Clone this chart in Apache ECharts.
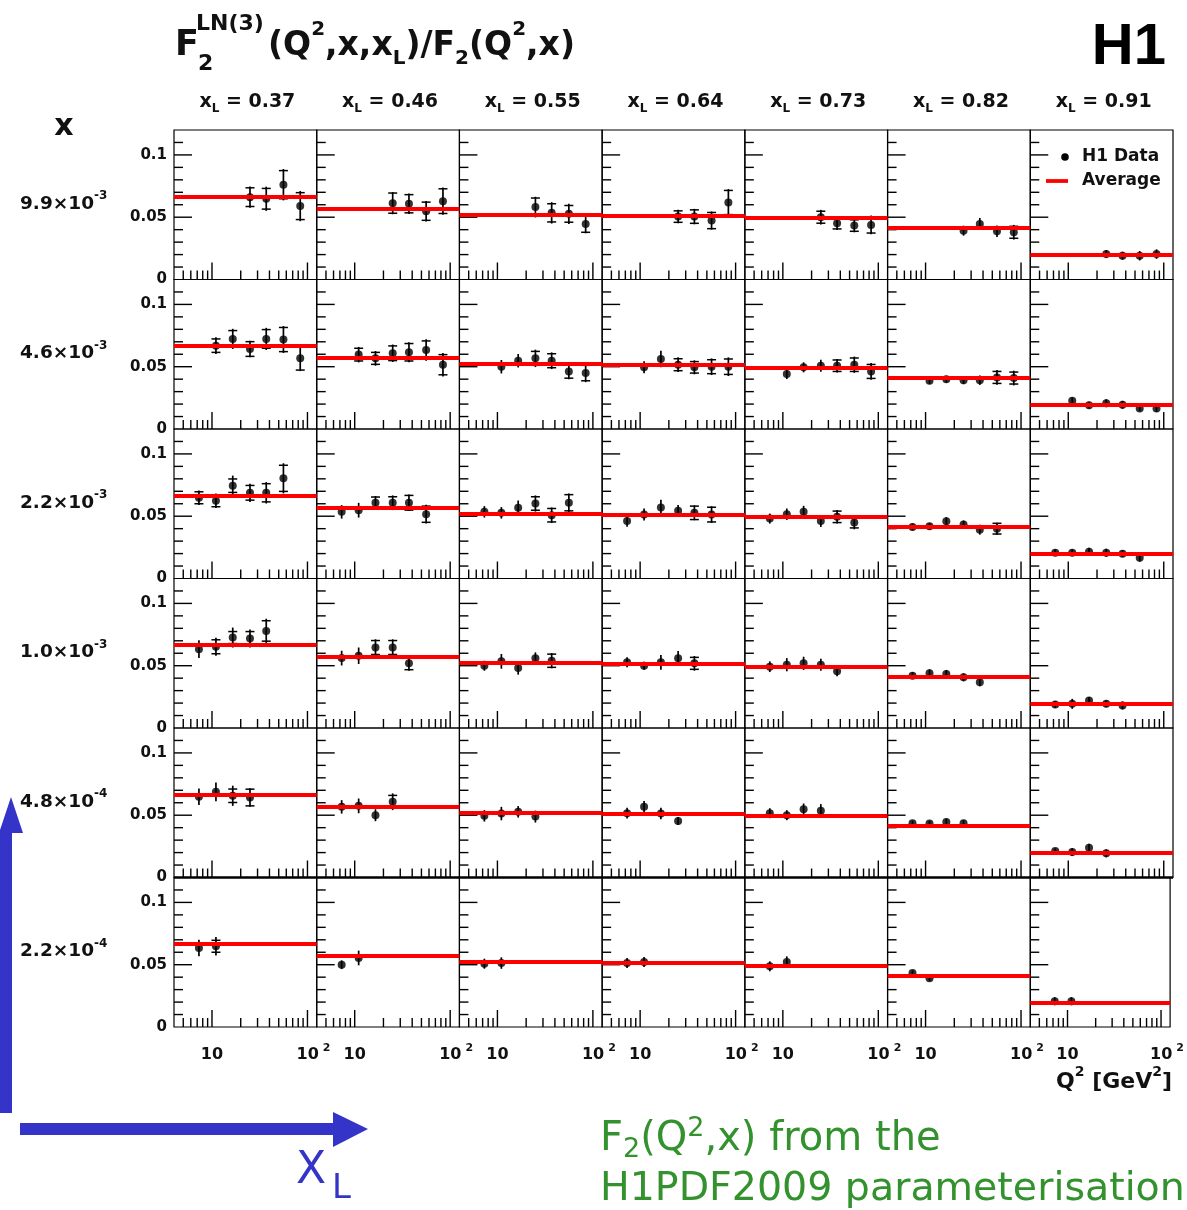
<!DOCTYPE html>
<html><head><meta charset="utf-8">
<script src="https://cdn.jsdelivr.net/npm/echarts@6/dist/echarts.min.js"></script>
<style>html,body{margin:0;padding:0;background:#fff}#c{width:1187px;height:1210px}</style>
</head><body><div id="c"></div>
<script>
// ---------------- data ----------------
const Q2_BINS = [7.3, 11, 16.5, 25, 37, 56, 84];
const XL_VALUES = ['0.37', '0.46', '0.55', '0.64', '0.73', '0.82', '0.91'];
const X_ROW_MANTISSA = ['9.9', '4.6', '2.2', '1.0', '4.8', '2.2'];
const X_ROW_EXPONENT = ['-3', '-3', '-3', '-3', '-4', '-4'];
const AVERAGE = [0.0665, 0.057, 0.052, 0.0515, 0.0495, 0.0414, 0.0198];
const FIRST_BIN = [3, 1, 0, 0, 0, 0];
const Y_TICK_LABELS = [0, 0.05, 0.1];
const X_TICK_LABELS = [10, 100];
const X_MAJOR_TICKS = [10, 100];
const X_MINOR_TICKS = [5, 6, 7, 8, 9, 20, 30, 40, 50, 60, 70, 80, 90];
const Y_MAJOR_TICKS = [0.05, 0.1];
const Y_MINOR_TICKS = [0.01, 0.02, 0.03, 0.04, 0.06, 0.07, 0.08, 0.09, 0.11];

const ROW1_VALUES = [[0.0661,0.0648,0.0761,0.0589],[0.0613,0.0608,0.0548,0.0629],[0.0581,0.0535,0.0527,0.0446],[0.0505,0.0505,0.0473,0.0618],[0.0500,0.0452,0.0433,0.0438],[0.0392,0.0446,0.0387,0.0379],[0.0204,0.0191,0.0191,0.0204]];
const ROW1_TOTAL = [[0.0086,0.0097,0.0126,0.0121],[0.0089,0.0083,0.0083,0.0110],[0.0083,0.0086,0.0081,0.0075],[0.0054,0.0062,0.0073,0.0108],[0.0059,0.0054,0.0054,0.0075],[0.0040,0.0048,0.0046,0.0059],[0.0032,0.0032,0.0038,0.0038]];
const ROW1_STAT = [[0.0075,0.0083,0.0113,0.0108],[0.0081,0.0073,0.0073,0.0099],[0.0073,0.0073,0.0067,0.0067],[0.0046,0.0054,0.0065,0.0097],[0.0048,0.0046,0.0046,0.0065],[0.0032,0.0040,0.0035,0.0048],[0.0022,0.0022,0.0027,0.0027]];

const ROW2_VALUES = [[0.0669,0.0723,0.0642,0.0723,0.0718,0.0567],[0.0597,0.0567,0.0608,0.0616,0.0634,0.0516],[0.0500,0.0548,0.0567,0.0548,0.0462,0.0449],[0.0495,0.0562,0.0516,0.0495,0.0500,0.0500],[0.0441,0.0495,0.0508,0.0508,0.0516,0.0462],[0.0387,0.0400,0.0392,0.0392,0.0414,0.0409],[0.0226,0.0191,0.0207,0.0194,0.0164,0.0164]];
const ROW2_TOTAL = [[0.0067,0.0081,0.0067,0.0089,0.0108,0.0102],[0.0062,0.0059,0.0070,0.0081,0.0086,0.0094],[0.0054,0.0054,0.0070,0.0067,0.0062,0.0073],[0.0048,0.0067,0.0059,0.0056,0.0067,0.0075],[0.0040,0.0040,0.0048,0.0054,0.0065,0.0067],[0.0027,0.0027,0.0032,0.0038,0.0059,0.0059],[0.0027,0.0027,0.0032,0.0032,0.0022,0.0027]];
const ROW2_STAT = [[0.0054,0.0067,0.0059,0.0075,0.0097,0.0094],[0.0051,0.0048,0.0059,0.0070,0.0073,0.0081],[0.0027,0.0038,0.0056,0.0056,0.0054,0.0062],[0.0027,0.0032,0.0048,0.0046,0.0056,0.0062],[0.0022,0.0022,0.0027,0.0046,0.0054,0.0056],[0.0016,0.0016,0.0022,0.0027,0.0048,0.0048],[0.0016,0.0016,0.0022,0.0022,0.0013,0.0016]];

const ROW3_VALUES = [[0.0648,0.0624,0.0745,0.0688,0.0688,0.0804],[0.0535,0.0548,0.0608,0.0608,0.0608,0.0516],[0.0535,0.0527,0.0567,0.0602,0.0508,0.0608],[0.0462,0.0513,0.0570,0.0543,0.0527,0.0513],[0.0481,0.0516,0.0535,0.0462,0.0495,0.0449],[0.0414,0.0419,0.0460,0.0433,0.0392,0.0400],[0.0207,0.0207,0.0215,0.0207,0.0199,0.0167]];
const ROW3_TOTAL = [[0.0059,0.0059,0.0081,0.0073,0.0086,0.0121],[0.0054,0.0059,0.0054,0.0059,0.0067,0.0075],[0.0046,0.0046,0.0059,0.0065,0.0062,0.0075],[0.0046,0.0048,0.0062,0.0046,0.0059,0.0067],[0.0040,0.0046,0.0048,0.0048,0.0054,0.0054],[0.0027,0.0027,0.0032,0.0032,0.0040,0.0048],[0.0027,0.0027,0.0032,0.0032,0.0027,0.0032]];
const ROW3_STAT = [[0.0048,0.0048,0.0054,0.0059,0.0073,0.0105],[0.0027,0.0032,0.0046,0.0048,0.0059,0.0065],[0.0024,0.0024,0.0032,0.0054,0.0054,0.0065],[0.0024,0.0027,0.0032,0.0032,0.0054,0.0059],[0.0022,0.0024,0.0027,0.0027,0.0046,0.0043],[0.0016,0.0016,0.0022,0.0022,0.0027,0.0043],[0.0016,0.0016,0.0022,0.0022,0.0016,0.0022]];

const ROW4_VALUES = [[0.0633,0.0652,0.0726,0.0718,0.0779],[0.0561,0.0580,0.0646,0.0646,0.0519],[0.0500,0.0535,0.0481,0.0559,0.0540],[0.0527,0.0500,0.0527,0.0559,0.0519],[0.0492,0.0508,0.0519,0.0508,0.0455],[0.0420,0.0439,0.0434,0.0407,0.0367],[0.0189,0.0194,0.0221,0.0194,0.0181]];
const ROW4_TOTAL = [[0.0072,0.0072,0.0080,0.0072,0.0098],[0.0059,0.0066,0.0066,0.0066,0.0059],[0.0040,0.0059,0.0053,0.0048,0.0061],[0.0040,0.0032,0.0059,0.0059,0.0059],[0.0043,0.0053,0.0053,0.0048,0.0040],[0.0027,0.0032,0.0032,0.0032,0.0032],[0.0027,0.0040,0.0027,0.0027,0.0032]];
const ROW4_STAT = [[0.0040,0.0056,0.0048,0.0056,0.0082],[0.0032,0.0037,0.0056,0.0056,0.0051],[0.0021,0.0027,0.0027,0.0037,0.0053],[0.0021,0.0019,0.0027,0.0027,0.0048],[0.0021,0.0027,0.0027,0.0024,0.0021],[0.0016,0.0019,0.0019,0.0019,0.0019],[0.0016,0.0021,0.0016,0.0016,0.0019]];

const ROW5_VALUES = [[0.0648,0.0688,0.0656,0.0642],[0.0567,0.0575,0.0500,0.0608],[0.0495,0.0513,0.0527,0.0489],[0.0516,0.0567,0.0513,0.0454],[0.0516,0.0500,0.0548,0.0535],[0.0435,0.0433,0.0446,0.0435],[0.0212,0.0204,0.0239,0.0194]];
const ROW5_TOTAL = [[0.0067,0.0075,0.0081,0.0075],[0.0054,0.0059,0.0048,0.0067],[0.0046,0.0054,0.0046,0.0048],[0.0043,0.0048,0.0046,0.0032],[0.0040,0.0040,0.0046,0.0054],[0.0022,0.0022,0.0027,0.0027],[0.0022,0.0032,0.0032,0.0032]];
const ROW5_STAT = [[0.0032,0.0040,0.0054,0.0067],[0.0027,0.0032,0.0024,0.0051],[0.0024,0.0027,0.0024,0.0038],[0.0022,0.0024,0.0024,0.0019],[0.0022,0.0022,0.0024,0.0040],[0.0013,0.0013,0.0016,0.0016],[0.0013,0.0019,0.0019,0.0019]];

const ROW6_VALUES = [[0.0634,0.0648],[0.0500,0.0554],[0.0508,0.0513],[0.0513,0.0521],[0.0487,0.0521],[0.0433,0.0392],[0.0207,0.0207]];
const ROW6_TOTAL = [[0.0067,0.0075],[0.0035,0.0059],[0.0040,0.0046],[0.0040,0.0040],[0.0040,0.0046],[0.0022,0.0022],[0.0032,0.0032]];
const ROW6_STAT = [[0.0032,0.0048],[0.0019,0.0030],[0.0022,0.0024],[0.0022,0.0022],[0.0022,0.0024],[0.0013,0.0013],[0.0019,0.0019]];

// ---------------- layout / style ----------------
const ROWS = [
  [ROW1_VALUES, ROW1_TOTAL, ROW1_STAT],
  [ROW2_VALUES, ROW2_TOTAL, ROW2_STAT],
  [ROW3_VALUES, ROW3_TOTAL, ROW3_STAT],
  [ROW4_VALUES, ROW4_TOTAL, ROW4_STAT],
  [ROW5_VALUES, ROW5_TOTAL, ROW5_STAT],
  [ROW6_VALUES, ROW6_TOTAL, ROW6_STAT]
];
const Q_MIN = 4, Q_MAX = 125, Y_MAX = 0.12;
const P_LEFT = 174, P_RIGHT = 1173, P_TOP = 130, P_BOTTOM = 1027;
const NC = 7, NR = 6;
const CW = (P_RIGHT - P_LEFT) / NC, RH = (P_BOTTOM - P_TOP) / NR;
const FF = '"DejaVu Sans", sans-serif';
const TXT = '#111';
const BLUE = '#3434c8';
const GREEN = '#33922e';

const grids = [], xAxes = [], yAxes = [], series = [];

function renderXTick(params, api) {
  const p = api.coord([api.value(0), 0]);
  const len = api.value(2) ? 17 : 9;
  return {type: 'line', silent: true, shape: {x1: p[0], y1: p[1], x2: p[0], y2: p[1] - len},
          style: {stroke: '#000', lineWidth: 1.4}};
}
function renderYTick(params, api) {
  const p = api.coord([Q_MIN, api.value(1)]);
  const len = api.value(2) ? 18 : 9;
  return {type: 'line', silent: true, shape: {x1: p[0], y1: p[1], x2: p[0] + len, y2: p[1]},
          style: {stroke: '#000', lineWidth: 1.4}};
}
function renderErr(params, api) {
  const x = api.value(0), y = api.value(1), tot = api.value(2), st = api.value(3);
  const a = api.coord([x, y + tot]), b = api.coord([x, y - tot]);
  const sa = api.coord([x, y + st]), sb = api.coord([x, y - st]);
  const ch = [{type: 'line', shape: {x1: a[0], y1: a[1], x2: b[0], y2: b[1]}, style: {stroke: '#000', lineWidth: 1.7}}];
  if (sb[1] - sa[1] > 10) {
    ch.push({type: 'line', shape: {x1: sa[0] - 4.5, y1: sa[1], x2: sa[0] + 4.5, y2: sa[1]}, style: {stroke: '#000', lineWidth: 1.5}});
    ch.push({type: 'line', shape: {x1: sb[0] - 4.5, y1: sb[1], x2: sb[0] + 4.5, y2: sb[1]}, style: {stroke: '#000', lineWidth: 1.5}});
  }
  return {type: 'group', silent: true, children: ch};
}

const xTickData = X_MAJOR_TICKS.map(v => [v, 0, 1]).concat(X_MINOR_TICKS.map(v => [v, 0, 0]));
const yTickData = Y_MAJOR_TICKS.map(v => [Q_MIN, v, 1]).concat(Y_MINOR_TICKS.map(v => [Q_MIN, v, 0]));

for (let r = 0; r < NR; r++) {
  const [vals, tots, stats] = ROWS[r];
  for (let c = 0; c < NC; c++) {
    const idx = r * NC + c;
    grids.push({left: P_LEFT + c * CW, top: P_TOP + r * RH, width: CW, height: RH,
                show: true, borderColor: '#000', borderWidth: 1.2, backgroundColor: 'transparent'});
    xAxes.push({
      gridIndex: idx, type: 'log', logBase: 10, min: Q_MIN, max: Q_MAX,
      axisLine: {show: false}, axisTick: {show: false}, splitLine: {show: false},
      axisLabel: {
        show: r === NR - 1, showMinLabel: false, showMaxLabel: false, margin: 15,
        color: TXT, fontFamily: FF, fontWeight: 'bold', fontSize: 16, lineHeight: 26,
        formatter: function (v) {
          const l = Math.log10(v);
          const hit = X_TICK_LABELS.find(t => Math.abs(Math.log10(t) - l) < 1e-6);
          if (hit === undefined) return '';
          const e = Math.round(Math.log10(hit));
          return e === 1 ? '{n|10}' : '{p|}{n|10}{s|' + e + '}';
        },
        rich: {
          n: {fontFamily: FF, fontWeight: 'bold', fontSize: 16, color: TXT, lineHeight: 26},
          p: {width: 12, lineHeight: 26},
          s: {fontFamily: FF, fontWeight: 'bold', fontSize: 11, color: TXT, padding: [0, 0, 13, 4]}
        }
      }
    });
    yAxes.push({
      gridIndex: idx, type: 'value', min: 0, max: Y_MAX, interval: 0.05,
      axisLine: {show: false}, axisTick: {show: false}, splitLine: {show: false},
      axisLabel: {
        show: c === 0, showMaxLabel: false, margin: 7,
        color: TXT, fontFamily: FF, fontWeight: 'bold', fontSize: 15,
        formatter: function (v) {
          const hit = Y_TICK_LABELS.find(t => Math.abs(t - v) < 1e-9);
          return hit === undefined ? '' : String(hit);
        }
      }
    });
    series.push({
      type: 'custom', xAxisIndex: idx, yAxisIndex: idx, renderItem: renderXTick,
      data: xTickData, silent: true, clip: false, z: 1, animation: false
    });
    series.push({
      type: 'custom', xAxisIndex: idx, yAxisIndex: idx, renderItem: renderYTick,
      data: yTickData, silent: true, clip: false, z: 1, animation: false,
      markLine: {silent: true, symbol: 'none', precision: 8, label: {show: false}, animation: false,
                 lineStyle: {color: '#ff0000', width: 3.8, type: 'solid'},
                 data: [{yAxis: AVERAGE[c]}]}
    });
    const pts = vals[c].map((v, i) => [Q2_BINS[FIRST_BIN[r] + i], v, tots[c][i], stats[c][i]]);
    series.push({
      type: 'custom', xAxisIndex: idx, yAxisIndex: idx, renderItem: renderErr,
      data: pts, encode: {x: 0, y: 1}, silent: true, clip: false, z: 3, animation: false
    });
    series.push({
      type: 'scatter', xAxisIndex: idx, yAxisIndex: idx, name: 'H1 Data',
      data: pts.map(p => [p[0], p[1]]), symbol: 'circle', symbolSize: 8,
      itemStyle: {color: '#000'}, silent: true, z: 4, animation: false
    });
  }
}

// ---------------- text / decorations ----------------
const graphic = [];
// title
graphic.push({type: 'text', x: 175, y: 46, style: {text: 'F', font: 'bold 35px ' + FF, fill: TXT, textVerticalAlign: 'middle'}});
graphic.push({type: 'text', x: 196, y: 24, style: {text: 'LN(3)', font: 'bold 22px ' + FF, fill: TXT, textVerticalAlign: 'middle'}});
graphic.push({type: 'text', x: 198, y: 64, style: {text: '2', font: 'bold 22px ' + FF, fill: TXT, textVerticalAlign: 'middle'}});
graphic.push({type: 'text', x: 268, y: 46, style: {
  text: '{b|(Q}{p|2}{b|,x,x}{s|L}{b|)/F}{s|2}{b|(Q}{p|2}{b|,x)}',
  textVerticalAlign: 'middle',
  rich: {
    b: {fontFamily: FF, fontWeight: 'bold', fontSize: 33, fill: TXT, color: TXT},
    p: {fontFamily: FF, fontWeight: 'bold', fontSize: 20, fill: TXT, color: TXT, padding: [0, 0, 32, 0]},
    s: {fontFamily: FF, fontWeight: 'bold', fontSize: 20, fill: TXT, color: TXT, padding: [26, 0, 0, 0]}
  }
}});
// H1 logo
graphic.push({type: 'text', x: 1166, y: 48, style: {text: 'H1', font: 'bold 58px "Liberation Sans", Arial, sans-serif', fill: '#000', textAlign: 'right', textVerticalAlign: 'middle'}});
// "x" row-axis title
graphic.push({type: 'text', x: 64, y: 127, style: {text: 'x', font: 'bold 30px ' + FF, fill: TXT, textAlign: 'center', textVerticalAlign: 'middle'}});
// column headers
XL_VALUES.forEach((v, c) => {
  graphic.push({type: 'text', x: P_LEFT + (c + 0.5) * CW + 2, y: 102, style: {
    text: '{b|x}{s|L}{b| = ' + v + '}', textAlign: 'center', textVerticalAlign: 'middle',
    rich: {
      b: {fontFamily: FF, fontWeight: 'bold', fontSize: 19, fill: TXT, color: TXT},
      s: {fontFamily: FF, fontWeight: 'bold', fontSize: 12, fill: TXT, color: TXT, padding: [14, 0, 0, 0]}
    }
  }});
});
// row labels
X_ROW_MANTISSA.forEach((m, r) => {
  graphic.push({type: 'text', x: 20, y: P_TOP + r * RH + 74, style: {
    text: '{b|' + m + '×10}{s|' + X_ROW_EXPONENT[r] + '}', textVerticalAlign: 'middle',
    rich: {
      b: {fontFamily: FF, fontWeight: 'bold', fontSize: 18.5, fill: TXT, color: TXT},
      s: {fontFamily: FF, fontWeight: 'bold', fontSize: 12, fill: TXT, color: TXT, padding: [0, 0, 16, 0]}
    }
  }});
});
// thicker separator seen between the two lowest rows
graphic.push({type: 'line', z: 50, shape: {x1: P_LEFT, y1: P_TOP + 5 * RH, x2: P_RIGHT, y2: P_TOP + 5 * RH}, style: {stroke: '#000', lineWidth: 2.6}});
// legend
graphic.push({type: 'circle', z: 100, shape: {cx: 1065, cy: 157, r: 3.8}, style: {fill: '#000'}});
graphic.push({type: 'text', z: 100, x: 1082, y: 157, style: {text: 'H1 Data', font: 'bold 17px ' + FF, fill: TXT, textVerticalAlign: 'middle'}});
graphic.push({type: 'line', z: 100, shape: {x1: 1046, y1: 181, x2: 1068, y2: 181}, style: {stroke: '#ff0000', lineWidth: 3.8}});
graphic.push({type: 'text', z: 100, x: 1082, y: 181, style: {text: 'Average', font: 'bold 17px ' + FF, fill: TXT, textVerticalAlign: 'middle'}});
// x axis title
graphic.push({type: 'text', x: 1172, y: 1082, style: {
  text: '{b|Q}{p|2}{b| [GeV}{p|2}{b|]}', textAlign: 'right', textVerticalAlign: 'middle',
  rich: {
    b: {fontFamily: FF, fontWeight: 'bold', fontSize: 22, fill: TXT, color: TXT},
    p: {fontFamily: FF, fontWeight: 'bold', fontSize: 14, fill: TXT, color: TXT, padding: [0, 0, 20, 0]}
  }
}});
// blue arrows
graphic.push({type: 'rect', shape: {x: 0, y: 830, width: 12, height: 283}, style: {fill: BLUE}});
graphic.push({type: 'polygon', shape: {points: [[-1, 833], [23, 833], [11, 797]]}, style: {fill: BLUE}});
graphic.push({type: 'rect', shape: {x: 20, y: 1123, width: 315, height: 12}, style: {fill: BLUE}});
graphic.push({type: 'polygon', shape: {points: [[333, 1112], [333, 1147], [368, 1129]]}, style: {fill: BLUE}});
graphic.push({type: 'text', x: 296, y: 1172, style: {text: 'X', font: '44px ' + FF, fill: BLUE, textVerticalAlign: 'middle'}});
graphic.push({type: 'text', x: 332, y: 1189, style: {text: 'L', font: '34px ' + FF, fill: BLUE, textVerticalAlign: 'middle'}});
// green annotation
graphic.push({type: 'text', x: 600, y: 1140, style: {
  text: '{b|F}{s|2}{b|(Q}{p|2}{b|,x) from the}', textVerticalAlign: 'middle',
  rich: {
    b: {fontFamily: FF, fontSize: 40, fill: GREEN, color: GREEN},
    s: {fontFamily: FF, fontSize: 27, fill: GREEN, color: GREEN, padding: [20, 0, 0, 0]},
    p: {fontFamily: FF, fontSize: 27, fill: GREEN, color: GREEN, padding: [0, 0, 22, 0]}
  }
}});
graphic.push({type: 'text', x: 600, y: 1190, style: {text: 'H1PDF2009 parameterisation', font: '39.5px ' + FF, fill: GREEN, textVerticalAlign: 'middle'}});

const chart = echarts.init(document.getElementById('c'), null, {renderer: 'canvas'});
chart.setOption({
  animation: false,
  backgroundColor: '#fff',
  grid: grids, xAxis: xAxes, yAxis: yAxes, series: series,
  graphic: graphic
});
</script></body></html>
